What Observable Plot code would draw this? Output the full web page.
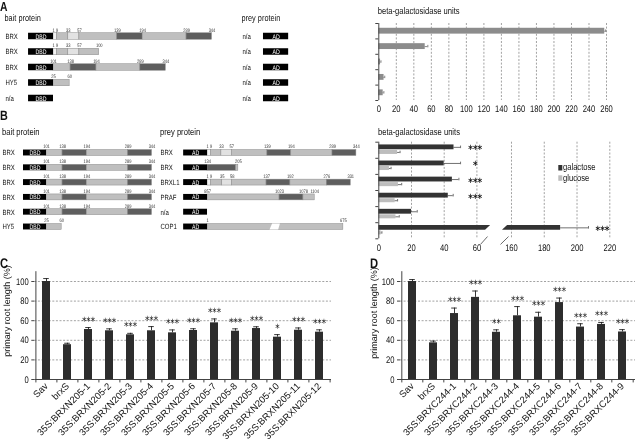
<!DOCTYPE html>
<html><head><meta charset="utf-8">
<script src="https://cdn.jsdelivr.net/npm/d3@7"></script>
<script src="https://cdn.jsdelivr.net/npm/@observablehq/plot@0.6"></script>
<style>
html,body{margin:0;padding:0;background:#fff;}
#fig{position:relative;width:638px;height:442px;overflow:hidden;background:#fff;}
#fig .p{position:absolute;will-change:transform;}
#fig svg text{text-rendering:geometricPrecision;}
</style></head><body><div id="fig"></div>
<script>
// ================= DATA =================
// Panel A — bait constructs (DBD fusions), domain boundaries (aa)
const aBaitNames  = ["BRX", "BRX", "BRX", "HY5", "n/a"];
const aBaitBounds = [[1, 9, 33, 57, 139, 194, 289, 344], [1, 9, 33, 57, 100], [101, 138, 194, 289, 344], [25, 60], []];
const aBaitShades = [["w", "m", "l", "m", "d", "m", "d"], ["w", "m", "l", "m"], ["m", "d", "m", "d"], ["m"], []];
const aPreyNames  = ["n/a", "n/a", "n/a", "n/a", "n/a"];
const aBetaGal    = [258, 53, 2, 6, 5];
const aBetaGalErr = [1, 3, 0.5, 0.8, 0.8];
const aTicks      = [0, 20, 40, 60, 80, 100, 120, 140, 160, 180, 200, 220, 240, 260];

// Panel B
const bBaitNames  = ["BRX", "BRX", "BRX", "BRX", "BRX", "HY5"];
const bBaitBounds = [[101, 138, 194, 289, 344], [101, 138, 194, 289, 344], [101, 138, 194, 289, 344], [101, 138, 194, 289, 344], [101, 138, 194, 289, 344], [25, 60]];
const bBaitShades = [["m", "d", "m", "d"], ["m", "d", "m", "d"], ["m", "d", "m", "d"], ["m", "d", "m", "d"], ["m", "d", "m", "d"], ["m"]];
const bPreyNames  = ["BRX", "BRX", "BRXL1", "PRAF", "n/a", "COP1"];
const bPreyBounds = [[1, 9, 33, 57, 139, 194, 289, 344], [134, 200, 205], [1, 9, 35, 58, 137, 192, 276, 331], [857, 1023, 1078, 1104], [], [1, 675]];
const bPreyShades = [["w", "m", "l", "m", "d", "m", "d"], ["d", "m"], ["w", "m", "l", "m", "d", "m", "d"], ["m", "d", "m"], [], ["m"]];
const bPreyMarks  = [[1, 9, 33, 57, 139, 194, 289, 344], [134, 205], [1, 9, 35, 58, 137, 192, 276, 331], [857, 1023, 1078, 1104], [], [1, 675]];
const galactose    = [46, 40, 45, 42.5, 20, 190];
const galactoseErr = [4, 10, 4, 3, 3.5, 17];
const glucose      = [11.5, 6.5, 12, 10, 10.5, 1.5];
const glucoseErr   = [1.5, 1, 2, 1.5, 2, 0.4];
const bStars       = ["***", "*", "***", "***", "", "***"];
const bTicks       = [0, 20, 40, 60, 160, 180, 200, 220];

// Panel C
const cLines  = ["Sav", "brxS", "35S:BRXN205-1", "35S:BRXN205-2", "35S:BRXN205-3", "35S:BRXN205-4", "35S:BRXN205-5", "35S:BRXN205-6", "35S:BRXN205-7", "35S:BRXN205-8", "35S:BRXN205-9", "35S:BRXN205-10", "35S:BRXN205-11", "35S:BRXN205-12"];
const cValues = [100, 35.5, 51, 49.7, 45.6, 49.7, 47.6, 50, 57.8, 49.3, 52, 43.2, 50.3, 48.3];
const cErr    = [3, 1.5, 2, 2, 1.5, 4.3, 3, 1.8, 4, 2.4, 1.8, 2.6, 2.3, 2.4];
const cStars  = ["", "", "***", "***", "***", "***", "***", "***", "***", "***", "***", "*", "***", "***"];

// Panel D
const dLines  = ["Sav", "brxS", "35S:BRXC244-1", "35S:BRXC244-2", "35S:BRXC244-3", "35S:BRXC244-4", "35S:BRXC244-5", "35S:BRXC244-6", "35S:BRXC244-7", "35S:BRXC244-8", "35S:BRXC244-9"];
const dValues = [100, 37.4, 67.3, 83.8, 48.2, 65, 63.6, 78.5, 53.5, 56.2, 48.5];
const dErr    = [2, 1.8, 5.6, 6.5, 2.5, 9.4, 5, 4.6, 3.4, 2, 2.4];
const dStars  = ["", "", "***", "***", "**", "***", "***", "***", "***", "***", "***"];
const rootTicks = [0, 20, 40, 60, 80, 100];

// ================= RENDER =================
const SHADE = {w: "#f3f3f3", l: "#e2e2e2", m: "#bfbfbf", d: "#5e5e5e"};
const FONT = '"Liberation Sans", Arial, Helvetica, sans-serif';
const SQUASH = 0.8;
const INK = "#111";
const fig = document.getElementById("fig");
const baseStyle = {background: "transparent", fontFamily: FONT, fontSize: "9.5px", color: INK, overflow: "visible"};

function place(node, left, top) {
  const d = document.createElement("div");
  d.className = "p"; d.style.left = left + "px"; d.style.top = top + "px";
  d.appendChild(node); fig.appendChild(d); return node;
}

function proteinPlot({width, height, k, origin, rowTop, rowStep, nRows, half, cols}) {
  const rects = [], nums = [], boxes = [], names = [], breaks = [];
  cols.forEach(c => {
    c.names.forEach((name, r) => {
      names.push({x: c.labelX, r, t: name});
      boxes.push({x1: c.off - c.boxW, x2: c.off, r, t: c.box});
      const b = c.bounds[r];
      if (!b.length) return;
      const start = b[0];
      const cut = c.cuts && c.cuts[r];
      const pos = a => c.off + a - start - (cut && a > cut.at ? cut.hidden : 0);
      for (let i = 0; i < b.length - 1; i++) rects.push({x1: pos(b[i]), x2: pos(b[i + 1]), r, s: c.shades[r][i]});
      (c.marks && c.marks[r] ? c.marks[r] : b).forEach(a => nums.push({x: pos(a), r, t: String(a)}));
      if (cut) breaks.push([
        {y: r + half, x1: c.off + cut.shape[0], x2: c.off + cut.shape[1]},
        {y: r - half, x1: c.off + cut.shape[2], x2: c.off + cut.shape[3]}
      ]);
    });
  });
  const bottom = rowTop + (nRows - 1) * rowStep;
  return Plot.plot({
    width, height, marginLeft: 0, marginRight: 0, marginTop: rowTop, marginBottom: height - bottom,
    style: baseStyle,
    color: {type: "identity"},
    x: {domain: [-origin / k, (width - origin) / k], axis: null},
    y: {domain: [0, nRows - 1], reverse: true, axis: null},
    marks: [
      Plot.rect(rects, {x1: "x1", x2: "x2", y1: d => d.r - half, y2: d => d.r + half, fill: d => SHADE[d.s], stroke: "#8a8a8a", strokeWidth: 0.5}),
      ...breaks.map(b => Plot.areaX(b, {y: "y", x1: "x1", x2: "x2", fill: "white", curve: "linear"})),
      Plot.rect(boxes, {x1: "x1", x2: "x2", y1: d => d.r - half, y2: d => d.r + half, fill: "#000"}),
      Plot.text(boxes, {x: d => (d.x1 + d.x2) / 2, y: "r", text: "t", fill: "white", fontSize: 6.5}),
      Plot.text(names, {x: "x", y: "r", text: "t", textAnchor: "start", fontSize: 7.5, fill: INK}),
      Plot.text(nums, {x: "x", y: d => d.r - half, dy: -3.3, text: "t", fontSize: 5, fill: "#333"})
    ]
  });
}

// ---- Panel A diagram ----
place(proteinPlot({
  width: 320, height: 108, k: 0.462, origin: 53, rowTop: 36, rowStep: 15.5, nRows: 5, half: 0.21,
  cols: [
    {names: aBaitNames, bounds: aBaitBounds, shades: aBaitShades, off: 0, boxW: 54, box: "DBD", labelX: -104},
    {names: aPreyNames, bounds: aPreyNames.map(() => []), shades: [], off: 509, boxW: 54.5, box: "AD", labelX: 409}
  ]
}), 0, 0);

// ---- Panel B diagram ----
place(proteinPlot({
  width: 370, height: 128, k: 0.434, origin: 46, rowTop: 40.5, rowStep: 14.8, nRows: 6, half: 0.2,
  cols: [
    {names: bBaitNames, bounds: bBaitBounds, shades: bBaitShades, off: 0, boxW: 53, box: "DBD", labelX: -101.4},
    {names: bPreyNames, bounds: bPreyBounds, shades: bPreyShades, marks: bPreyMarks, off: 371, boxW: 55, box: "AD", labelX: 262.7,
     cuts: [null, null, null, null, null, {at: 200, hidden: 361, shape: [144, 164, 150, 168]}]}
  ]
}), 0, 112);

// ---- Panel A beta-gal ----
{
  const data = aBetaGal.map((v, i) => ({i, v, e: aBetaGalErr[i]}));
  place(Plot.plot({
    width: 318, height: 115, marginLeft: 58.3, marginRight: 32, marginTop: 23, marginBottom: 15,
    style: baseStyle,
    x: {domain: [0, 260]},
    y: {domain: [0, 5], reverse: true},
    marks: [
      Plot.ruleX(aTicks.filter(t => t > 0), {y1: 0, y2: 5, stroke: "#8a8a8a", strokeWidth: 0.8, strokeDasharray: "2,1.6"}),
      Plot.rect(data, {x1: 0, x2: "v", y1: d => d.i + 0.31, y2: d => d.i + 0.69, fill: "#8c8c8c"}),
      Plot.ruleY(data, {y: d => d.i + 0.5, x1: "v", x2: d => d.v + d.e, stroke: "#555", strokeWidth: 0.7}),
      Plot.ruleX(data, {x: d => d.v + d.e, y1: d => d.i + 0.42, y2: d => d.i + 0.58, stroke: "#555", strokeWidth: 0.7}),
      Plot.ruleX([0], {y1: 0, y2: 5, stroke: "#444"}),
      Plot.axisY({ticks: [0, 1, 2, 3, 4, 5], tickSize: 3, tickFormat: () => "", label: null, stroke: "#444"}),
      Plot.axisX({ticks: aTicks, tickSize: 0, tickPadding: 4.5, label: null})
    ]
  }), 320, 0);
}

// ---- Panel B beta-gal (broken axis) ----
{
  const gal = galactose.map((v, i) => ({i, v, e: galactoseErr[i], s: bStars[i]}));
  const glu = glucose.map((v, i) => ({i, v, e: glucoseErr[i]}));
  const BREAK = 70;
  const broken = gal.filter(d => d.v > BREAK);
  const leftPieces = broken.map(d => [{y: d.i + 0.47, x1: 0, x2: 65.3}, {y: d.i + 0.17, x1: 0, x2: 68.4}]);
  const rightPieces = broken.map(d => [{y: d.i + 0.47, x1: 154.5, x2: d.v}, {y: d.i + 0.17, x1: 157.6, x2: d.v}]);
  const STAR_COL = 59;
  place(Plot.plot({
    width: 318, height: 135, marginLeft: 58.3, marginRight: 28.7, marginTop: 21.7, marginBottom: 16.7,
    style: baseStyle,
    x: {type: "linear", domain: [0, BREAK, 150, 220], range: [58.3, 172.75, 174.6, 289.3]},
    y: {domain: [0, 6], reverse: true},
    marks: [
      Plot.ruleX(bTicks.filter(t => t > 0), {y1: 0, y2: 6, stroke: "#8a8a8a", strokeWidth: 0.8, strokeDasharray: "2,1.6"}),
      Plot.rect(gal.filter(d => d.v <= BREAK), {x1: 0, x2: "v", y1: d => d.i + 0.17, y2: d => d.i + 0.47, fill: "#333"}),
      ...leftPieces.map(p => Plot.areaX(p, {y: "y", x1: "x1", x2: "x2", fill: "#333", curve: "linear"})),
      ...rightPieces.map(p => Plot.areaX(p, {y: "y", x1: "x1", x2: "x2", fill: "#333", curve: "linear"})),
      Plot.rect(glu, {x1: 0, x2: "v", y1: d => d.i + 0.51, y2: d => d.i + 0.76, fill: "#bdbdbd"}),
      Plot.ruleY(gal, {y: d => d.i + 0.32, x1: "v", x2: d => d.v + d.e, stroke: "#333", strokeWidth: 0.7}),
      Plot.ruleX(gal, {x: d => d.v + d.e, y1: d => d.i + 0.24, y2: d => d.i + 0.40, stroke: "#333", strokeWidth: 0.7}),
      Plot.ruleY(glu, {y: d => d.i + 0.635, x1: "v", x2: d => d.v + d.e, stroke: "#333", strokeWidth: 0.7}),
      Plot.ruleX(glu, {x: d => d.v + d.e, y1: d => d.i + 0.56, y2: d => d.i + 0.71, stroke: "#333", strokeWidth: 0.7}),
      Plot.ruleX([0], {y1: 0, y2: 6, stroke: "#444"}),
      Plot.axisY({ticks: [0, 1, 2, 3, 4, 5, 6], tickSize: 3, tickFormat: () => "", label: null, stroke: "#444"}),
      Plot.link([{x1: 62.2, y1: 6.35, x2: 66.5, y2: 5.86}, {x1: 153.3, y1: 6.35, x2: 158.2, y2: 5.86}], {x1: "x1", y1: "y1", x2: "x2", y2: "y2", stroke: "#444", strokeWidth: 0.8}),
      Plot.text(gal.filter(d => d.s), {x: d => d.v > BREAK ? d.v + d.e + 8.5 : STAR_COL, y: d => d.i + 0.32, dy: 2.5, text: "s", fontFamily: "DejaVu Sans", fontWeight: "bold", fontSize: 11, fill: "#111"}),
      Plot.axisX({ticks: bTicks, tickSize: 0, tickPadding: 5, label: null})
    ]
  }), 320, 120);
}

// ---- Panels C & D: primary root length ----
function rootPanel({names, values, errs, stars, width, marginLeft, marginRight}) {
  const height = 180;
  const data = names.map((n, i) => ({n, v: values[i], e: errs[i], s: stars[i]}));
  const step = (width - marginLeft - marginRight) / names.length;
  return Plot.plot({
    width, height, marginLeft, marginRight, marginTop: 9.2, marginBottom: 63,
    style: baseStyle,
    x: {type: "band", domain: names, paddingInner: 0.6, paddingOuter: 0.3},
    y: {domain: [0, 110]},
    marks: [
      Plot.ruleY([20, 40, 60, 80, 100], {stroke: "#8a8a8a", strokeWidth: 0.8, strokeDasharray: "2,1.6"}),
      Plot.barY(data, {x: "n", y: "v", fill: "#2d2d2d"}),
      Plot.ruleX(data, {x: "n", y1: "v", y2: d => d.v + d.e, stroke: "#222", strokeWidth: 0.9}),
      Plot.tickY(data, {x: "n", y: d => d.v + d.e, stroke: "#222", strokeWidth: 0.9, insetLeft: 1.2, insetRight: 1.2}),
      Plot.ruleY([0], {stroke: "#444"}),
      Plot.ruleX([names[0]], {x: d => d, dx: -step / 2, y1: 0, y2: 110, stroke: "#444"}),
      Plot.ruleX(names, {x: d => d, dx: -step / 2, y1: 0, y2: -3.5, stroke: "#444"}),
      Plot.ruleX([names[names.length - 1]], {x: d => d, dx: step / 2, y1: 0, y2: -3.5, stroke: "#444"}),
      Plot.axisY({ticks: rootTicks, tickSize: 3, tickPadding: 3, label: null, stroke: "#444"}),
      Plot.axisX({tickSize: 0, tickPadding: 5, tickRotate: -45, label: null, fontSize: 9.5}),
      Plot.text(data.filter(d => d.s), {x: "n", y: d => d.v + d.e, text: "s", dy: -6.5, fontFamily: "DejaVu Sans", fontSize: 11, fill: "#111"})
    ]
  });
}
place(rootPanel({names: cLines, values: cValues, errs: cErr, stars: cStars, width: 336, marginLeft: 34.3, marginRight: 5}), 0, 262);
place(rootPanel({names: dLines, values: dValues, errs: dErr, stars: dStars, width: 318, marginLeft: 80, marginRight: 3}), 320, 262);

// ---- Overlay: panel letters, headers, axis titles, legend ----
const ov = d3.create("svg").attr("width", 638).attr("height", 442)
  .style("position", "absolute").style("left", "0px").style("top", "0px")
  .style("font-family", FONT).style("overflow", "visible").style("will-change", "transform");
function label(x, y, t, size, weight, rotate) {
  ov.append("text").attr("transform", `translate(${x},${y})` + (rotate ? ` rotate(${rotate})` : ""))
    .attr("dominant-baseline", "central").attr("text-anchor", rotate ? "middle" : "start")
    .attr("font-size", size).attr("font-weight", weight || "normal").attr("fill", INK).text(t);
}
label(0, 6, "A", 13, "bold");
label(4.5, 17.5, "bait protein", 9.2);
label(241.5, 17.5, "prey protein", 9.2);
label(377.7, 11, "beta-galactosidase units", 9.5);
label(0, 115.7, "B", 13.5, "bold");
label(2, 132.5, "bait protein", 9.5);
label(160, 132.5, "prey protein", 9.5);
label(378, 132, "beta-galactosidase units", 9.5);
label(0, 263, "C", 14, "bold");
label(370, 263, "D", 14, "bold");
label(6.5, 311, "primary root length (%)", 9, "normal", -90);
label(373.5, 313, "primary root length (%)", 9, "normal", -90);
ov.append("rect").attr("x", 558.3).attr("y", 165).attr("width", 4).attr("height", 5.5).attr("fill", "#333");
ov.append("rect").attr("x", 558.3).attr("y", 175.3).attr("width", 4).attr("height", 5.5).attr("fill", "#bdbdbd");
label(563, 167.7, "galactose", 9.5);
label(563, 178, "glucose", 9.5);
fig.appendChild(ov.node());

// Condense horizontal text (the figure is horizontally compressed)
fig.querySelectorAll("text").forEach(t => {
  if (t.closest('[transform*="rotate"]')) return;
  const L = t.getComputedTextLength();
  if (L > 0) { t.setAttribute("textLength", (L * SQUASH).toFixed(2)); t.setAttribute("lengthAdjust", "spacingAndGlyphs"); }
});
</script></body></html>
